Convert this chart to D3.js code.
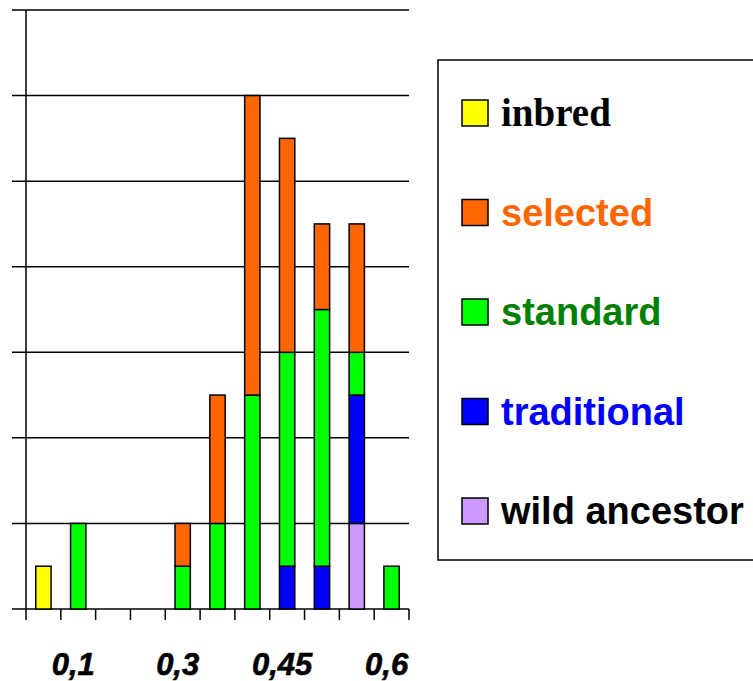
<!DOCTYPE html>
<html>
<head>
<meta charset="utf-8">
<script src="https://cdn.jsdelivr.net/npm/d3@7"></script>
<style>
  body { margin: 0; background: #fff; }
  svg { display: block; }
</style>
</head>
<body>
<svg id="chart"></svg>
<script>
// bins along the x axis, only a few of them carry a label
const bins = ["b1", "b2", "b3", "b4", "b5", "b6", "b7", "b8", "b9", "b10", "b11"];
const binLabels = ["", "0,1", "", "", "0,3", "", "", "0,45", "", "", "0,6"];

// counts per bin for each group
const inbred      = [1, 0, 0, 0, 0, 0, 0, 0, 0, 0, 0];
const wildAnc     = [0, 0, 0, 0, 0, 0, 0, 0, 0, 2, 0];
const traditional = [0, 0, 0, 0, 0, 0, 0, 1, 1, 3, 0];
const standard    = [0, 2, 0, 0, 1, 2, 5, 5, 6, 1, 1];
const selected    = [0, 0, 0, 0, 1, 3, 7, 5, 2, 3, 0];

const yTicks = [0, 2, 4, 6, 8, 10, 12, 14];

// legend order (top to bottom)
const legendItems = [
    { key: "inbred", label: "inbred", fill: "#ffff00", text: "#000000", serif: true },
    { key: "selected", label: "selected", fill: "#ff6600", text: "#ff6600" },
    { key: "standard", label: "standard", fill: "#00ff00", text: "#008000" },
    { key: "traditional", label: "traditional", fill: "#0000ff", text: "#0000ff" },
    { key: "wild", label: "wild ancestor", fill: "#cc99ff", text: "#000000" }
];

// stacking order bottom -> top
const stackKeys = ["inbred", "wild", "traditional", "standard", "selected"];
const fillOf = {};
legendItems.forEach(d => fillOf[d.key] = d.fill);

const table = bins.map((b, i) => ({
    bin: b,
    inbred: inbred[i],
    wild: wildAnc[i],
    traditional: traditional[i],
    standard: standard[i],
    selected: selected[i]
}));

const svg = d3.select("#chart")
    .attr("width", 753)
    .attr("height", 681);

const plot = { left: 26, right: 409, top: 10, bottom: 609 };

const x = d3.scaleBand()
    .domain(bins)
    .range([plot.left, plot.right])
    .paddingInner(0.56)
    .paddingOuter(0.28);

const xEdges = d3.scaleBand()
    .domain(bins)
    .range([plot.left, plot.right])
    .padding(0);

const y = d3.scaleLinear()
    .domain([0, 14])
    .range([plot.bottom, plot.top]);

// horizontal gridlines (they stick out left of the axis like ticks)
svg.append("g")
    .selectAll("line")
    .data(yTicks)
    .enter()
    .append("line")
    .attr("x1", 12)
    .attr("x2", plot.right)
    .attr("y1", d => y(d))
    .attr("y2", d => y(d))
    .attr("stroke", "#000")
    .attr("stroke-width", 1.5);

// y axis line
svg.append("line")
    .attr("x1", plot.left).attr("x2", plot.left)
    .attr("y1", plot.top).attr("y2", plot.bottom)
    .attr("stroke", "#000")
    .attr("stroke-width", 1.5);

// stacked bars
const series = d3.stack().keys(stackKeys)(table);

svg.append("g")
    .selectAll("g")
    .data(series)
    .enter()
    .append("g")
    .attr("fill", d => fillOf[d.key])
    .selectAll("rect")
    .data(d => d.filter(s => s[1] - s[0] > 0))
    .enter()
    .append("rect")
    .attr("x", d => x(d.data.bin))
    .attr("width", x.bandwidth())
    .attr("y", d => y(d[1]))
    .attr("height", d => y(d[0]) - y(d[1]))
    .attr("stroke", "#000")
    .attr("stroke-width", 1.5);

// x axis tick marks at bin edges
const edges = bins.map(b => xEdges(b)).concat([plot.right]);
svg.append("g")
    .selectAll("line")
    .data(edges)
    .enter()
    .append("line")
    .attr("x1", d => d).attr("x2", d => d)
    .attr("y1", plot.bottom).attr("y2", plot.bottom + 11)
    .attr("stroke", "#000")
    .attr("stroke-width", 1.5);

// x labels
svg.append("g")
    .selectAll("text")
    .data(bins.map((b, i) => ({ bin: b, label: binLabels[i] })).filter(d => d.label))
    .enter()
    .append("text")
    .attr("x", d => x(d.bin) + x.bandwidth() / 2)
    .attr("y", 675)
    .attr("dx", -5)
    .attr("text-anchor", "middle")
    .style("font-family", "'Liberation Sans', Arial, sans-serif")
    .style("font-weight", "bold")
    .style("font-style", "italic")
    .style("font-size", "31px")
    .style("stroke", "#000")
    .style("stroke-width", 0.6)
    .text(d => d.label);

// legend
const legend = svg.append("g");
legend.append("rect")
    .attr("x", 438)
    .attr("y", 60)
    .attr("width", 330)
    .attr("height", 500)
    .attr("fill", "#fff")
    .attr("stroke", "#000")
    .attr("stroke-width", 1.5);

const rows = legend.selectAll(".row")
    .data(legendItems)
    .enter()
    .append("g")
    .attr("class", "row")
    .attr("transform", (d, i) => `translate(0, ${113 + i * 99.5})`);

rows.append("rect")
    .attr("x", 462)
    .attr("y", -13)
    .attr("width", 26)
    .attr("height", 26)
    .attr("fill", d => d.fill)
    .attr("stroke", "#000")
    .attr("stroke-width", 1.5);

rows.append("text")
    .attr("x", 501)
    .attr("y", 13)
    .attr("fill", d => d.text)
    .style("font-family", d => d.serif ? "'Liberation Serif', 'Times New Roman', serif" : "'Liberation Sans', Arial, sans-serif")
    .style("font-weight", "bold")
    .style("font-size", d => d.serif ? "39px" : "38px")
    .text(d => d.label);
</script>
</body>
</html>
